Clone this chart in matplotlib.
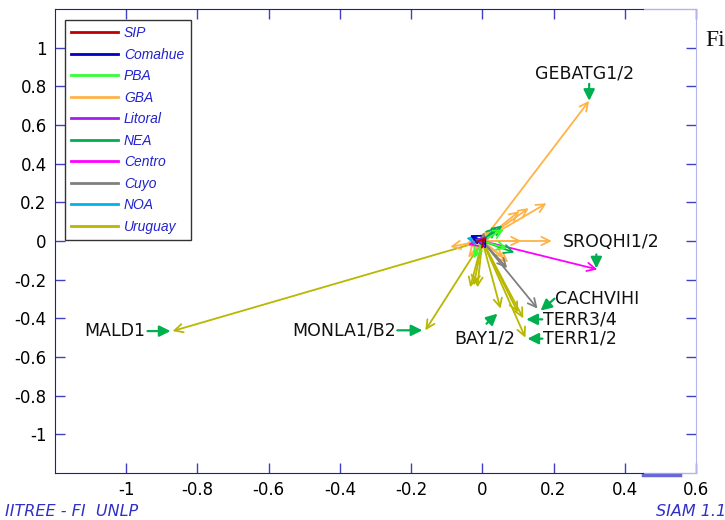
#Carga de paquetes
import numpy as np
import matplotlib.pyplot as plt
from matplotlib.lines import Line2D
from matplotlib.transforms import offset_copy

plt.rcParams['axes.unicode_minus'] = False

#Regiones y colores
regiones = ['SIP', 'Comahue', 'PBA', 'GBA', 'Litoral', 'NEA', 'Centro', 'Cuyo', 'NOA', 'Uruguay']
colores = ['#c00000', '#0000c0', '#33ff33', '#ffb347', '#a020f0',
           '#00b050', '#ff00ff', '#808080', '#00b0f0', '#b8b800']

#Vectores (region, x, y) desde el origen
vec_reg = ['Uruguay', 'Uruguay', 'Uruguay', 'Uruguay', 'Uruguay', 'Uruguay', 'Uruguay', 'Uruguay', 'Uruguay',
           'GBA', 'GBA', 'GBA', 'GBA', 'GBA', 'GBA', 'GBA', 'GBA', 'GBA', 'GBA', 'GBA', 'GBA',
           'Centro', 'Centro', 'Cuyo', 'Cuyo', 'Cuyo',
           'NEA', 'NEA', 'NEA', 'PBA', 'PBA', 'PBA',
           'NOA', 'Comahue', 'Comahue', 'Litoral', 'SIP']
vec_x = [-0.87, -0.16, 0.121, 0.115, 0.051, -0.034, -0.014, -0.024, 0.10,
         0.30, 0.18, 0.104, 0.13, 0.195, 0.11, 0.073, -0.09, -0.05, -0.04, 0.06, 0.02,
         0.323, -0.04, 0.155, 0.005, 0.07,
         0.056, 0.09, 0.04, 0.06, -0.025, 0.07,
         -0.045, -0.035, 0.01, -0.02, 0.01]
vec_y = [-0.466, -0.462, -0.50, -0.40, -0.35, -0.24, -0.24, -0.23, -0.37,
         0.725, 0.195, 0.154, 0.17, 0.0, 0.0, -0.11, -0.03, -0.02, -0.085, -0.085, 0.06,
         -0.147, -0.02, -0.35, 0.045, -0.14,
         0.08, -0.06, 0.07, 0.06, -0.09, -0.04,
         0.015, 0.03, -0.04, 0.01, 0.02]

#Etiquetas de los vectores principales (indice en la lista de vectores)
lab_txt = ['GEBATG1/2', 'SROQHI1/2', 'CACHVIHI', 'TERR3/4', 'TERR1/2', 'BAY1/2', 'MONLA1/B2', 'MALD1']
lab_idx = [9, 21, 23, 3, 2, 4, 1, 0]

xticks = [-1, -0.8, -0.6, -0.4, -0.2, 0, 0.2, 0.4, 0.6]
yticks = [-1, -0.8, -0.6, -0.4, -0.2, 0, 0.2, 0.4, 0.6, 0.8, 1]

#Posicion de texto y flecha verde (pixeles respecto de la punta)
lab_texto = [(-5, 27, 'center'), (-34, 27, 'left'), (17, 10, 'left'), (20, -1, 'left'),
             (18, -1, 'left'), (-16, -30, 'center'), (-29, 0, 'right'), (-27, 0, 'right')]
lab_cola = [(0, 17), (-1, 15), (17, 10), (19, -1), (17, -1), (-14, -15), (-28, 0), (-25, 0)]
lab_punta = [(0, 0), (-1, 1), (3, -2), (3, -1), (2, -1), (-3, -5), (-3, 0), (-2, 0)]

col = dict(zip(regiones, colores))

fig = plt.figure(figsize=(7.25, 5.2), dpi=100)
ax = fig.add_axes([55/725, 47/520, 641/725, 464/520])
ax.set_xlim(-1.2, 0.6)
ax.set_ylim(-1.2, 1.2)

azul = '#1c1ca8'
claro = '#b4b4ea'
ax.set_xticks(xticks)
ax.set_xticklabels(['%g' % t for t in xticks])
ax.set_yticks(yticks)
ax.set_yticklabels(['%g' % t for t in yticks])
ax.tick_params(direction='in', length=7, width=1, color='#4040c0', top=True, right=True,
               labelsize=12, pad=6)
for s in ['left', 'bottom', 'top']:
    ax.spines[s].set_color(azul)
ax.spines['right'].set_color(claro)
ax.spines['top'].set_bounds(-1.2, 0.45)
ax.spines['bottom'].set_bounds(-1.2, 0.45)
ax.plot([0.45, 0.6], [1, 1], color=claro, lw=1, transform=ax.get_xaxis_transform(), clip_on=False)
ax.plot([0.45, 0.6], [0, 0], color=claro, lw=1, transform=ax.get_xaxis_transform(), clip_on=False)
ax.plot([0.45, 0.555], [-0.004, -0.004], color='#6868d8', lw=2.5,
        transform=ax.get_xaxis_transform(), clip_on=False)

#Vectores
for r, x, y in zip(vec_reg, vec_x, vec_y):
    ax.annotate('', xy=(x, y), xytext=(0, 0),
                arrowprops=dict(arrowstyle='->,head_length=0.6,head_width=0.3',
                                color=col[r], lw=1.3, shrinkA=0, shrinkB=0))

#Etiquetas con flechas verdes
for t, i, (tx, ty, ha), c, p in zip(lab_txt, lab_idx, lab_texto, lab_cola, lab_punta):
    xy = (vec_x[i], vec_y[i])
    ax.annotate(t, xy=xy, xytext=(tx, ty), textcoords='offset pixels',
                ha=ha, va='center', fontsize=12.5, color='#111111')
    trp = offset_copy(ax.transData, fig=fig, x=p[0], y=p[1], units='dots')
    ax.annotate('', xy=xy, xycoords=trp, xytext=(c[0] - p[0], c[1] - p[1]),
                textcoords='offset pixels',
                arrowprops=dict(arrowstyle='-|>,head_length=0.6,head_width=0.3',
                                color='#00b050', lw=1.6, shrinkA=0, shrinkB=0,
                                mutation_scale=11),
                annotation_clip=False)

#Leyenda
handles = [Line2D([], [], color=c, lw=2) for c in colores]
leg = ax.legend(handles, regiones, loc='upper left', bbox_to_anchor=(10/641, 453/464),
                borderaxespad=0, fancybox=False, framealpha=1, edgecolor='#333333',
                prop={'family': 'Liberation Sans', 'style': 'italic', 'size': 10},
                handlelength=3.4, handletextpad=0.4, labelspacing=0.54, borderpad=0.45)
leg.get_frame().set_linewidth(1)
for txt in leg.get_texts():
    txt.set_color('#2222cc')

fig.text(5/725, 8/520, 'IITREE - FI  UNLP', color='#3030c8', style='italic', fontsize=11.5, va='center')
fig.text(656/725, 8/520, 'SIAM 1.1', color='#3030c8', style='italic', fontsize=11.5, va='center')
fig.text(705/725, 480/520, 'Fi', family='Liberation Serif', fontsize=17, va='center', color='#111111')

fig.savefig("out.png", dpi=100)
